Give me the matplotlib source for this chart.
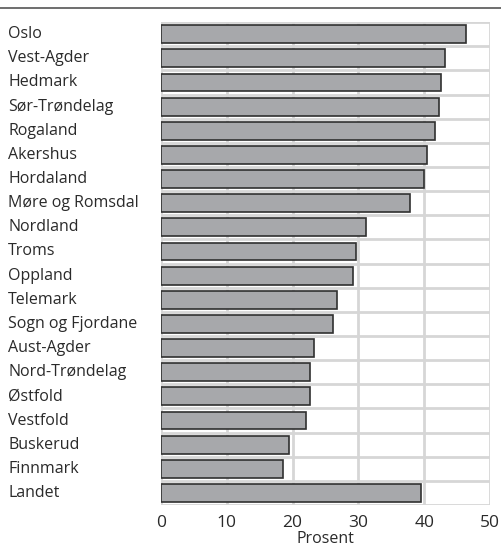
import matplotlib
matplotlib.use('Agg')
import matplotlib.pyplot as plt
from matplotlib.lines import Line2D
from matplotlib.transforms import blended_transform_factory

plt.rcParams['font.family'] = ['Open Sans', 'DejaVu Sans']

fylker = ['Oslo', 'Vest-Agder', 'Hedmark', 'Sør-Trøndelag', 'Rogaland',
          'Akershus', 'Hordaland', 'Møre og Romsdal', 'Nordland', 'Troms',
          'Oppland', 'Telemark', 'Sogn og Fjordane', 'Aust-Agder',
          'Nord-Trøndelag', 'Østfold', 'Vestfold', 'Buskerud', 'Finnmark',
          'Landet']
prosent = [46.3, 43.2, 42.5, 42.3, 41.6, 40.4, 40.0, 37.9, 31.1, 29.7,
           29.2, 26.7, 26.2, 23.3, 22.7, 22.6, 22.1, 19.5, 18.6, 39.5]
xticks = [0, 10, 20, 30, 40, 50]

GRID = '#d6d6d6'
TXT = '#2a2a2a'

fig = plt.figure(figsize=(5.01, 5.5), dpi=100)
ax = fig.add_axes([0.3214, 0.0818, 0.6566, 0.878])

n = len(fylker)
ypos = list(range(n))
ax.barh(ypos, prosent, height=0.74, color='#a7a8ab', edgecolor='#303030',
        linewidth=1.2, zorder=3)

ax.set_xlim(0, 50)
ax.set_ylim(n - 0.5, -0.5)

# vertikale gridlinjer og skillelinjer mellom radene
for x in xticks:
    ax.axvline(x, color=GRID, lw=2, zorder=1)
for i in range(n + 1):
    ax.axhline(i - 0.5, color=GRID, lw=2, zorder=1)

for s in ax.spines.values():
    s.set_visible(False)

ax.set_xticks(xticks)
ax.set_xticklabels([str(x) for x in xticks], fontsize=12.5, color=TXT)
ax.tick_params(axis='x', length=0, pad=7)
ax.set_yticks([])
ax.set_xlabel('Prosent', fontsize=11.5, color=TXT, labelpad=0)

trans = blended_transform_factory(fig.transFigure, ax.transData)
for i, navn in enumerate(fylker):
    ax.text(8 / 501, i, navn, transform=trans, ha='left', va='center',
            fontsize=11.5, color=TXT)

# linje øverst
fig.add_artist(Line2D([0, 1], [1 - 8 / 550, 1 - 8 / 550], color='#555555',
                      lw=1.2, transform=fig.transFigure))

fig.savefig('out.png', dpi=100)
